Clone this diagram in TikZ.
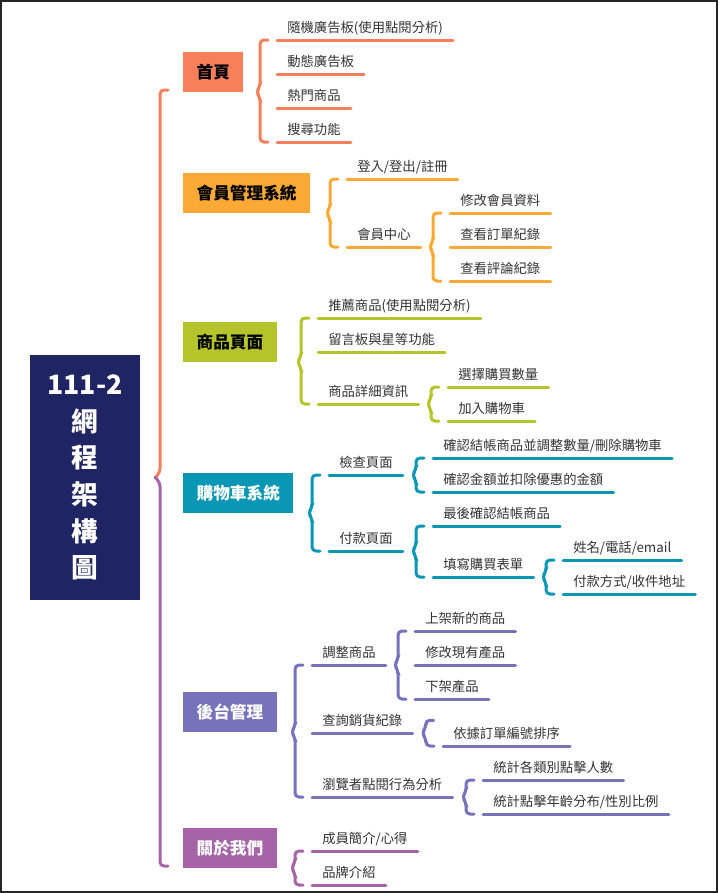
\documentclass[tikz,border=0pt]{standalone}
\usepackage{fontspec}
\newfontfamily\cjk{Noto Sans CJK TC}
\usetikzlibrary{calc}
\definecolor{cRoot}{HTML}{1F2462}
\definecolor{cHome}{HTML}{F7805B}
\definecolor{cMember}{HTML}{F9A934}
\definecolor{cGoods}{HTML}{B5C42A}
\definecolor{cCart}{HTML}{0A97B5}
\definecolor{cAdmin}{HTML}{7672BC}
\definecolor{cAbout}{HTML}{A563A8}
\definecolor{txt}{HTML}{333333}
\tikzset{
  root/.style={fill=cRoot, text=white, font=\cjk\bfseries\fontsize{20}{27.5}\selectfont, align=center, minimum width=82.5pt, minimum height=183.75pt},
  topic/.style={fill=#1, font=\cjk\bfseries\fontsize{12.5}{15}\selectfont, minimum height=30pt, inner xsep=10pt, anchor=south west},
  leaf/.style={font=\cjk\fontsize{10}{12}\selectfont, text=txt, inner xsep=7.5pt, inner ysep=3pt, text depth=2.25pt, anchor=south west},
  uline/.style={draw=#1, line width=2.25pt, line cap=round},
  brc/.style={draw=#1, line width=2.25pt, line cap=round, rounded corners=3pt},
  frame/.style={draw=black!85, line width=1.1pt}}
% brace: colour, parent, first child, last child
\newcommand\mbrace[4]{%
  \draw[brc=#1] ($(#3.south west)+(-9,0)$) -- ($(#3.south west)+(-17,0)$)
    -- ($(#3.south west |- #2.south)+(-17,-5)$) -- ($(#3.south west |- #2.south)+(-21,0)$)
    -- ($(#3.south west |- #2.south)+(-17,5)$) -- ($(#4.south west)+(-17,0)$)
    -- ($(#4.south west)+(-9,0)$);}

\begin{document}
\begin{tikzpicture}[x=0.75pt, y=-0.75pt]
  \useasboundingbox (0,0) rectangle (718,893);
  \draw[frame] (1,1) rectangle (717,892);

  \node[root] (root) at (85,477.5) {111-2\\網\\程\\架\\構\\圖};

  % topics
  \node[topic=cHome] (m1) at (183,92) {首頁};
  \node[topic=cMember] (m2) at (183,213) {會員管理系統};
  \node[topic=cGoods] (m3) at (183,362) {商品頁面};
  \node[topic=cCart, text=white] (m4) at (183,513) {購物車系統};
  \node[topic=cAdmin, text=white] (m5) at (183,732) {後台管理};
  \node[topic=cAbout, text=white] (m6) at (183,868) {關於我們};

  % home
  \node[leaf] (a1) at (277,40) {隨機廣告板(使用點閱分析)};
  \node[leaf] (a2) at (277,74) {動態廣告板};
  \node[leaf] (a3) at (277,108) {熱門商品};
  \node[leaf] (a4) at (277,142) {搜尋功能};

  % member
  \node[leaf] (b1) at (347,179) {登入/登出/註冊};
  \node[leaf] (b2) at (347,247) {會員中心};
  \node[leaf] (b21) at (450,213) {修改會員資料};
  \node[leaf] (b22) at (450,247) {查看訂單紀錄};
  \node[leaf] (b23) at (450,281) {查看評論紀錄};

  % goods
  \node[leaf] (c1) at (318,318) {推薦商品(使用點閱分析)};
  \node[leaf] (c2) at (318,352) {留言板與星等功能};
  \node[leaf] (c3) at (318,404) {商品詳細資訊};
  \node[leaf] (c31) at (448,387) {選擇購買數量};
  \node[leaf] (c32) at (448,421) {加入購物車};

  % cart
  \node[leaf] (d1) at (329,475) {檢查頁面};
  \node[leaf] (d11) at (433,458) {確認結帳商品並調整數量/刪除購物車};
  \node[leaf] (d12) at (433,492) {確認金額並扣除優惠的金額};
  \node[leaf] (d2) at (329,551) {付款頁面};
  \node[leaf] (d21) at (433,526) {最後確認結帳商品};
  \node[leaf] (d22) at (433,577) {填寫購買表單};
  \node[leaf] (d221) at (563,560) {姓名/電話/email};
  \node[leaf] (d222) at (563,594) {付款方式/收件地址};

  % admin
  \node[leaf] (e1) at (312,665) {調整商品};
  \node[leaf] (e11) at (415,631) {上架新的商品};
  \node[leaf] (e12) at (415,665) {修改現有產品};
  \node[leaf] (e13) at (415,699) {下架產品};
  \node[leaf] (e2) at (312,733) {查詢銷貨紀錄};
  \node[leaf] (e21) at (443,746) {依據訂單編號排序};
  \node[inner sep=0pt, minimum size=0pt] (e21up) at ($(e21.south west)!2!(e21.south west |- e2.south)$) {};
  \node[leaf] (e3) at (312,797) {瀏覽者點閱行為分析};
  \node[leaf] (e31) at (483,780) {統計各類別點擊人數};
  \node[leaf] (e32) at (483,814) {統計點擊年齡分布/性別比例};

  % about
  \node[leaf] (f1) at (312,851) {成員簡介/心得};
  \node[leaf] (f2) at (312,885) {品牌介紹};

  % underlines
  \foreach \n/\c in {a1/cHome, a2/cHome, a3/cHome, a4/cHome,
      b1/cMember, b2/cMember, b21/cMember, b22/cMember, b23/cMember,
      c1/cGoods, c2/cGoods, c3/cGoods, c31/cGoods, c32/cGoods,
      d1/cCart, d11/cCart, d12/cCart, d2/cCart, d21/cCart, d22/cCart, d221/cCart, d222/cCart,
      e1/cAdmin, e11/cAdmin, e12/cAdmin, e13/cAdmin, e2/cAdmin, e21/cAdmin, e3/cAdmin, e31/cAdmin, e32/cAdmin,
      f1/cAbout, f2/cAbout}
    \draw[uline=\c] (\n.south west) -- (\n.south east);

  % main brace
  \draw[brc=cHome] ($(m1.south west)+(-15,-2)$) -- ($(m1.south west)+(-23,-2)$)
    -- ($(m1.south west |- root.east)+(-23,-5)$) -- ($(root.east)+(15,0)$);
  \draw[brc=cAbout] ($(root.east)+(15,0)$) -- ($(m6.south west |- root.east)+(-23,5)$)
    -- ($(m6.south west)+(-23,-2)$) -- ($(m6.south west)+(-15,-2)$);

  % braces
  \mbrace{cHome}{m1}{a1}{a4}
  \mbrace{cMember}{m2}{b1}{b2}
  \mbrace{cMember}{b2}{b21}{b23}
  \mbrace{cGoods}{m3}{c1}{c3}
  \mbrace{cGoods}{c3}{c31}{c32}
  \mbrace{cCart}{m4}{d1}{d2}
  \mbrace{cCart}{d1}{d11}{d12}
  \mbrace{cCart}{d2}{d21}{d22}
  \mbrace{cCart}{d22}{d221}{d222}
  \mbrace{cAdmin}{m5}{e1}{e3}
  \mbrace{cAdmin}{e1}{e11}{e13}
  \mbrace{cAdmin}{e2}{e21up}{e21}
  \mbrace{cAdmin}{e3}{e31}{e32}
  \mbrace{cAbout}{m6}{f1}{f2}
\end{tikzpicture}
\end{document}
